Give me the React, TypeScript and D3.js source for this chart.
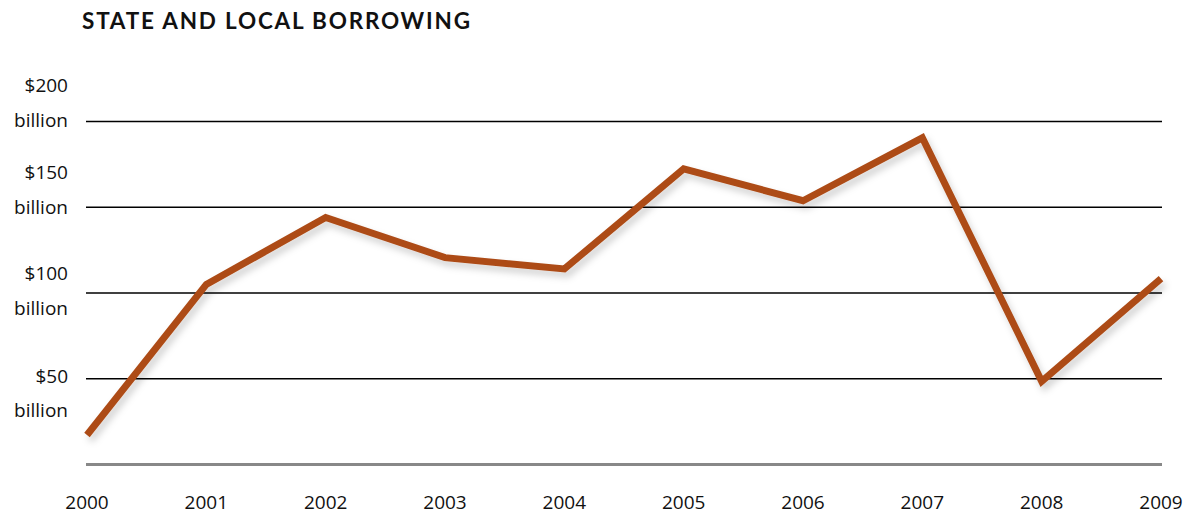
import React from "react";
import * as d3 from "d3";

const years = [2000, 2001, 2002, 2003, 2004, 2005, 2006, 2007, 2008, 2009];
const borrowing = [17.2, 105, 144, 120.6, 114, 172.4, 153.8, 190.5, 48.5, 108.4];
const gridValues = [50, 100, 150, 200];
const gridLabels = ["$50", "$100", "$150", "$200"];

// layout: baseline offset (px) of the two-line label relative to its gridline
const labelOffsets = [4, -13, -28, -29.5];

const W = 1192;
const H = 514;
const FONT = "'Open Sans', 'Noto Sans', sans-serif";
const TITLE_FONT = "Lato, 'Open Sans', sans-serif";

export default function App() {
  const x = d3.scaleLinear().domain([2000, 2009]).range([87, 1161]);
  const y = d3.scaleLinear().domain([0, 200]).range([464.5, 121.5]);
  const line = d3
    .line<number>()
    .x((_, i) => x(years[i]))
    .y((d) => y(d));

  return (
    <svg
      width={W}
      height={H}
      style={{ position: "absolute", left: 0, top: 0, background: "#fff" }}
    >
      <defs>
        <filter id="sh" x="-10%" y="-10%" width="120%" height="130%">
          <feDropShadow dx="3" dy="5" stdDeviation="3.5" floodColor="#000" floodOpacity="0.18" />
        </filter>
      </defs>
      <text
        x={82}
        y={29}
        fontFamily={TITLE_FONT}
        fontWeight={700}
        fontSize={22.5}
        fill="#111"
        textLength={388}
        lengthAdjust="spacing"
      >
        STATE AND LOCAL BORROWING
      </text>
      {gridValues.map((v, i) => (
        <g key={v}>
          <line x1={86} x2={1162} y1={y(v)} y2={y(v)} stroke="#000" strokeWidth={1.6} />
          <text
            x={68}
            y={y(v) + labelOffsets[i]}
            textAnchor="end"
            fontFamily={FONT}
            fontSize={19}
            fill="#111"
          >
            {gridLabels[i]}
          </text>
          <text
            x={68}
            y={y(v) + labelOffsets[i] + 34.5}
            textAnchor="end"
            fontFamily={FONT}
            fontSize={19}
            fill="#111"
          >
            billion
          </text>
        </g>
      ))}
      <line x1={86} x2={1162} y1={y(0)} y2={y(0)} stroke="#888" strokeWidth={3} />
      {years.map((yr) => (
        <text
          key={yr}
          x={x(yr)}
          y={509}
          textAnchor="middle"
          fontFamily={FONT}
          fontSize={19}
          fill="#111"
        >
          {yr}
        </text>
      ))}
      <path
        d={line(borrowing) || ""}
        fill="none"
        stroke="#AD4C19"
        strokeWidth={7}
        strokeLinejoin="miter"
        strokeLinecap="butt"
        filter="url(#sh)"
      />
    </svg>
  );
}
